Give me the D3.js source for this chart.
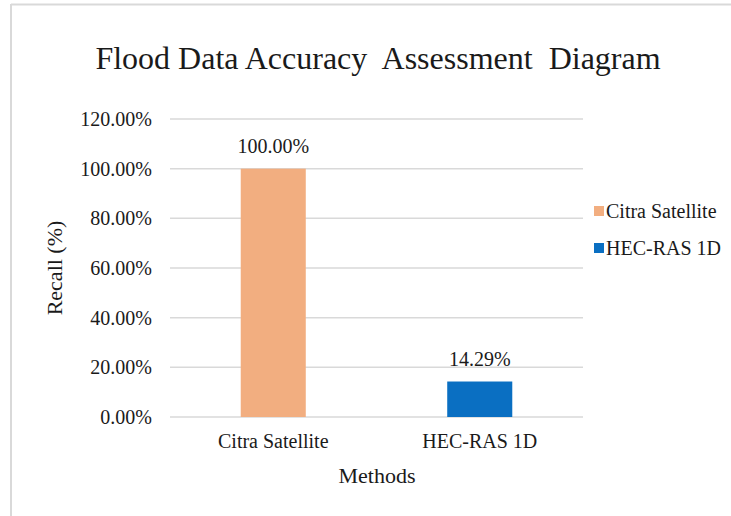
<!DOCTYPE html>
<html>
<head>
<meta charset="utf-8">
<script src="https://cdn.jsdelivr.net/npm/d3@7"></script>
<style>
  body { margin: 0; background: #fff; }
  svg text { font-family: "Liberation Serif", "Times New Roman", serif; fill: #1a1a1a; }
</style>
</head>
<body>
<div id="chart"></div>
<script>
var methods = ["Citra Satellite", "HEC-RAS 1D"];
var recall = [100.00, 14.29];
var barColors = ["#F2AE80", "#0A6FC2"];
var yTicks = [0, 20, 40, 60, 80, 100, 120];

var width = 731, height = 516;
var margin = {left: 170, right: 148, top: 119, bottom: 99};

var svg = d3.select("#chart").append("svg")
	.attr("width", width)
	.attr("height", height);

// frame (only top and left edges visible in the reference)
svg.append("line").attr("x1", 11).attr("x2", width).attr("y1", 4.5).attr("y2", 4.5)
	.attr("stroke", "#d9d9d9").attr("stroke-width", 2);
svg.append("line").attr("x1", 11).attr("x2", 11).attr("y1", 4).attr("y2", height)
	.attr("stroke", "#d9d9d9").attr("stroke-width", 2);

var x = d3.scaleBand()
	.domain(methods)
	.range([margin.left, width - margin.right])
	.paddingInner(0.685)
	.paddingOuter(0.3425);

var y = d3.scaleLinear()
	.domain([0, 120])
	.range([height - margin.bottom, margin.top]);

// gridlines
svg.append("g")
	.selectAll("line")
	.data(yTicks)
	.join("line")
	.attr("x1", margin.left)
	.attr("x2", width - margin.right)
	.attr("y1", function(d) { return y(d); })
	.attr("y2", function(d) { return y(d); })
	.attr("stroke", "#d9d9d9")
	.attr("stroke-width", 1.5);

// y axis labels
var yAxis = svg.append("g")
	.attr("transform", "translate(" + margin.left + ",0)")
	.call(d3.axisLeft(y).tickValues(yTicks).tickSize(0).tickPadding(18)
		.tickFormat(function(d) { return d.toFixed(2) + "%"; }));
yAxis.select(".domain").remove();
yAxis.selectAll("text").style("font-size", "20px").attr("fill", "#1a1a1a");

// bars
svg.append("g")
	.selectAll("rect")
	.data(recall)
	.join("rect")
	.attr("x", function(d, i) { return x(methods[i]); })
	.attr("y", function(d) { return y(d); })
	.attr("width", x.bandwidth())
	.attr("height", function(d) { return y(0) - y(d); })
	.attr("fill", function(d, i) { return barColors[i]; });

// value labels
svg.append("g")
	.selectAll("text")
	.data(recall)
	.join("text")
	.attr("x", function(d, i) { return x(methods[i]) + x.bandwidth() / 2; })
	.attr("y", function(d) { return y(d) - 16; })
	.attr("text-anchor", "middle")
	.style("font-size", "20px")
	.text(function(d) { return d.toFixed(2) + "%"; });

// x axis labels
var xAxis = svg.append("g")
	.attr("transform", "translate(0," + y(0) + ")")
	.call(d3.axisBottom(x).tickSize(0).tickPadding(17));
xAxis.select(".domain").remove();
xAxis.selectAll("text").style("font-size", "20px").attr("fill", "#1a1a1a");

// titles
svg.append("text")
	.attr("x", 378).attr("y", 69)
	.attr("text-anchor", "middle")
	.style("font-size", "32px")
	.style("white-space", "pre")
	.text("Flood Data Accuracy  Assessment  Diagram");

svg.append("text")
	.attr("transform", "translate(62,268) rotate(-90)")
	.attr("text-anchor", "middle")
	.style("font-size", "22px")
	.text("Recall (%)");

svg.append("text")
	.attr("x", 377).attr("y", 483)
	.attr("text-anchor", "middle")
	.style("font-size", "22px")
	.text("Methods");

// legend
var legend = svg.append("g")
	.selectAll("g")
	.data(methods)
	.join("g")
	.attr("transform", function(d, i) { return "translate(594," + (211 + i * 37) + ")"; });
legend.append("rect")
	.attr("x", 0).attr("y", -5)
	.attr("width", 10).attr("height", 10)
	.attr("fill", function(d, i) { return barColors[i]; });
legend.append("text")
	.attr("x", 12).attr("y", 7)
	.style("font-size", "20px")
	.text(function(d) { return d; });
</script>
</body>
</html>
